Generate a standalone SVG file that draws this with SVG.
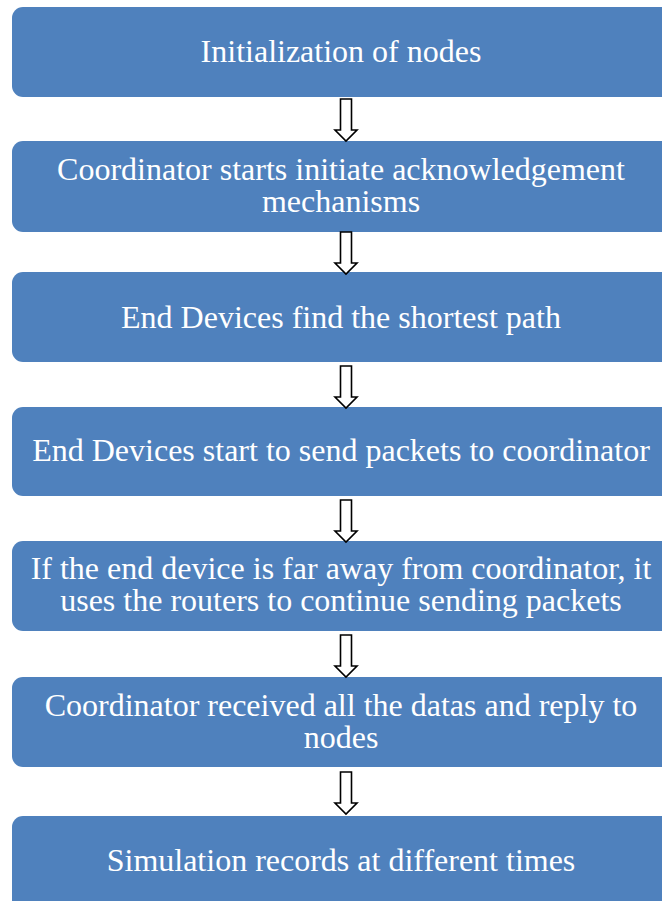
<svg xmlns="http://www.w3.org/2000/svg" width="662" height="901" viewBox="0 0 662 901">
  <style>
    .box { fill: #4F81BD; }
    .lbl { fill: #FFFFFF; font-family: "Liberation Serif", "Times New Roman", serif; font-size: 32px; text-anchor: middle; }
    .arrow { fill: #FFFFFF; stroke: #000000; stroke-width: 1.6; stroke-linejoin: miter; }
  </style>
  <defs>
    <!-- hollow block arrow, drawn with its tip at (0,0) -->
    <polygon id="down" points="-5.5,-42 5.5,-42 5.5,-11 11,-11 0,0 -11,-11 -5.5,-11 -5.5,-42"/>
  </defs>
  <rect width="662" height="901" fill="#FFFFFF"/>

  <g id="n1">
    <rect class="box" x="12" y="7" width="690" height="90" rx="11"/>
    <text class="lbl" x="341" y="62">Initialization of nodes</text>
  </g>
  <g id="n2">
    <rect class="box" x="12" y="141" width="690" height="91" rx="11"/>
    <text class="lbl" x="341" y="180">Coordinator starts initiate acknowledgement<tspan x="341" dy="32">mechanisms</tspan></text>
  </g>
  <g id="n3">
    <rect class="box" x="12" y="272" width="690" height="90" rx="11"/>
    <text class="lbl" x="341" y="328">End Devices find the shortest path</text>
  </g>
  <g id="n4">
    <rect class="box" x="12" y="407" width="690" height="89" rx="11"/>
    <text class="lbl" x="341" y="461">End Devices start to send packets to coordinator</text>
  </g>
  <g id="n5">
    <rect class="box" x="12" y="541" width="690" height="90" rx="11"/>
    <text class="lbl" x="341" y="579">If the end device is far away from coordinator, it<tspan x="341" dy="32">uses the routers to continue sending packets</tspan></text>
  </g>
  <g id="n6">
    <rect class="box" x="12" y="677" width="690" height="90" rx="11"/>
    <text class="lbl" x="341" y="716">Coordinator received all the datas and reply to<tspan x="341" dy="32">nodes</tspan></text>
  </g>
  <g id="n7">
    <rect class="box" x="12" y="816" width="690" height="100" rx="11"/>
    <text class="lbl" x="341" y="871">Simulation records at different times</text>
  </g>

  <g id="connectors">
    <use href="#down" class="arrow" x="346" y="141"/>
    <use href="#down" class="arrow" x="346" y="274"/>
    <use href="#down" class="arrow" x="346" y="408"/>
    <use href="#down" class="arrow" x="346" y="542"/>
    <use href="#down" class="arrow" x="346" y="677"/>
    <use href="#down" class="arrow" x="346" y="814"/>
  </g>
</svg>
